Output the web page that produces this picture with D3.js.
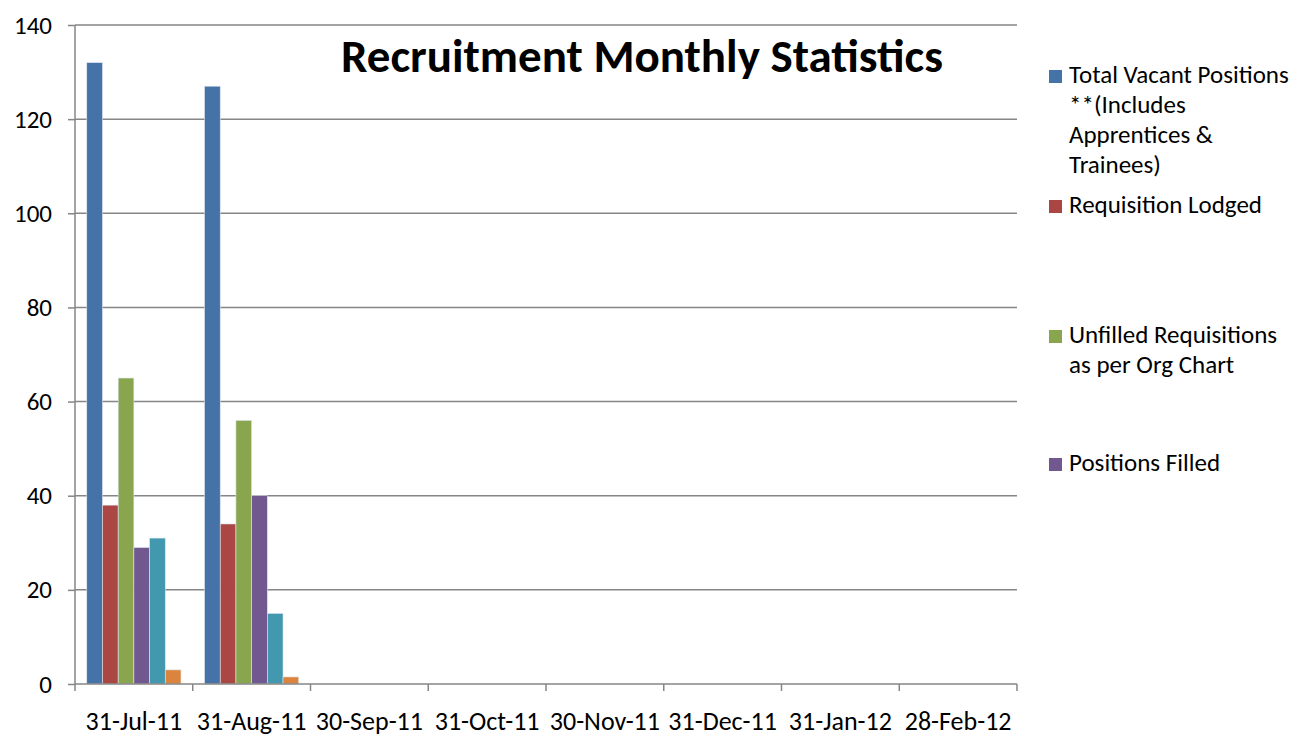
<!DOCTYPE html>
<html><head><meta charset="utf-8">
<script src="https://cdn.jsdelivr.net/npm/d3@7"></script>
<style>body{margin:0;background:#fff;} text{font-family:Carlito,Lato,"Open Sans",sans-serif;}</style>
</head><body>
<svg id="c" width="1305" height="738"></svg>
<script>
const categories = ["31-Jul-11","31-Aug-11","30-Sep-11","31-Oct-11","30-Nov-11","31-Dec-11","31-Jan-12","28-Feb-12"];
const seriesNames = ["Total Vacant Positions **(Includes Apprentices & Trainees)","Requisition Lodged","Unfilled Requisitions as per Org Chart","Positions Filled","Series5","Series6"];
const totalVacant = [132,127,null,null,null,null,null,null];
const requisitionLodged = [38,34,null,null,null,null,null,null];
const unfilled = [65,56,null,null,null,null,null,null];
const positionsFilled = [29,40,null,null,null,null,null,null];
const series5 = [31,15,null,null,null,null,null,null];
const series6 = [3,1.5,null,null,null,null,null,null];
const yTicks = [0,20,40,60,80,100,120,140];
const colors = ["#4572A7","#AA4643","#89A54E","#71588F","#4198AF","#DB843D"];
const legendLines = [["Total Vacant Positions","**(Includes","Apprentices &","Trainees)"],["Requisition Lodged"],["Unfilled Requisitions","as per Org Chart"],["Positions Filled"]];
const legendY = [83,213,343,471];

const allSeries = [totalVacant,requisitionLodged,unfilled,positionsFilled,series5,series6];
const FONT = "Carlito,Lato,'Open Sans',sans-serif";
const svg = d3.select("#c");
const L=75,R=1017,T=25,B=684;
const x = d3.scaleBand().domain(categories).range([L,R]).paddingInner(0).paddingOuter(0);
const y = d3.scaleLinear().domain([0,140]).range([B,T]);
const inner = d3.scaleBand().domain(d3.range(6)).range([0,x.bandwidth()]).paddingInner(0).paddingOuter(0.75);

// gridlines
svg.append("g").selectAll("line").data(yTicks.filter(d=>d>0)).join("line")
  .attr("x1",L).attr("x2",R).attr("y1",d=>y(d)).attr("y2",d=>y(d))
  .attr("stroke","#868686").attr("stroke-width",1.5);

// bars
const g = svg.append("g");
allSeries.forEach((s,i)=>{
  g.selectAll(null).data(categories.map((c,j)=>({c,v:s[j]})).filter(d=>d.v!=null)).join("rect")
    .attr("x",d=>x(d.c)+inner(i)).attr("width",inner.bandwidth())
    .attr("y",d=>y(d.v)).attr("height",d=>B-y(d.v))
    .attr("fill",colors[i]).attr("stroke","#dfe6ef").attr("stroke-width",0.6);
});

// y axis
const ya = svg.append("g").attr("transform",`translate(${L},0)`).call(d3.axisLeft(y).tickValues(yTicks).tickSize(7).tickPadding(16));
ya.select(".domain").attr("stroke","#868686").attr("stroke-width",1.5).attr("d",`M0,${B}V${T}`);
ya.selectAll(".tick line").attr("stroke","#868686").attr("stroke-width",1.5);
ya.selectAll(".tick text").attr("font-size",25).attr("fill","#000").attr("font-family",FONT);

// x axis
const xa = svg.append("g").attr("transform",`translate(0,${B})`).call(d3.axisBottom(x).tickSize(0).tickPadding(0));
xa.select(".domain").attr("stroke","#868686").attr("stroke-width",1.5).attr("d",`M${L},0H${R}`);
xa.selectAll(".tick text").attr("font-size",26).attr("fill","#000").attr("font-family",FONT)
  .attr("dy",null).attr("y",46);
svg.append("g").selectAll("line").data(d3.range(categories.length+1)).join("line")
  .attr("x1",i=>L+i*x.step()).attr("x2",i=>L+i*x.step()).attr("y1",B).attr("y2",B+7)
  .attr("stroke","#868686").attr("stroke-width",1.5);

// title
svg.append("text").attr("x",642).attr("y",72).attr("text-anchor","middle")
  .attr("font-size",47).attr("font-weight","bold").text("Recruitment Monthly Statistics");

// legend
legendLines.forEach((lines,i)=>{
  const yy = legendY[i];
  svg.append("rect").attr("x",1049).attr("y",yy-13).attr("width",13).attr("height",13).attr("fill",colors[i]);
  lines.forEach((ln,k)=>{
    svg.append("text").attr("x",1069).attr("y",yy+k*30).attr("font-size",25).text(ln);
  });
});
</script>
</body></html>
